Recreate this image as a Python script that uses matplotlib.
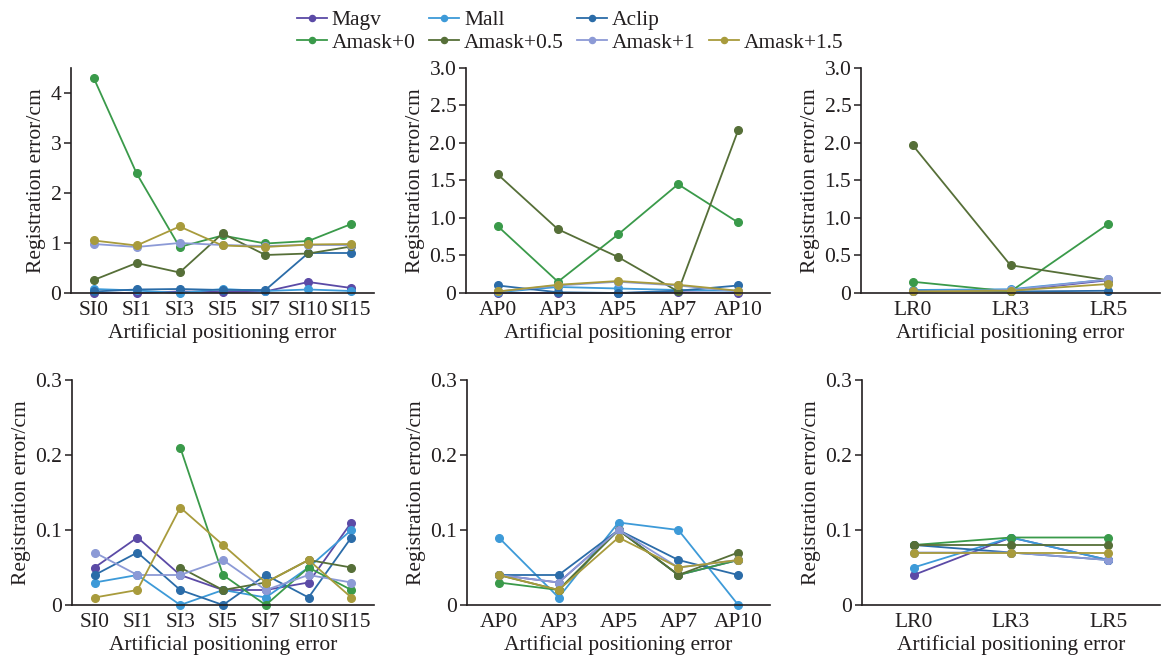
import numpy as np
import matplotlib
matplotlib.use("Agg")
import matplotlib.pyplot as plt
from matplotlib.lines import Line2D

plt.rcParams["font.family"] = ["Liberation Serif", "DejaVu Serif"]

nan = np.nan

series_names = ["Magv", "Mall", "Aclip", "Amask+0", "Amask+0.5", "Amask+1", "Amask+1.5"]
series_colors = ["#5b4aa6", "#3d9ad8", "#2b6ca8", "#3a9a4a", "#566f38", "#8c9ad6", "#a89b3c"]

si_labels = ["SI0", "SI1", "SI3", "SI5", "SI7", "SI10", "SI15"]
ap_labels = ["AP0", "AP3", "AP5", "AP7", "AP10"]
lr_labels = ["LR0", "LR3", "LR5"]

# top row (large scale)
si_top = [
    [0.00, 0.00, 0.03, 0.02, 0.03, 0.22, 0.10],
    [0.08, 0.05, 0.00, 0.08, 0.04, 0.07, 0.04],
    [0.03, 0.07, 0.08, 0.06, 0.06, 0.80, 0.80],
    [4.30, 2.39, 0.92, 1.15, 0.99, 1.04, 1.38],
    [0.26, 0.60, 0.41, 1.19, 0.76, 0.79, 0.93],
    [0.98, 0.92, 1.00, 0.96, 0.94, 0.96, 0.96],
    [1.05, 0.95, 1.33, 0.95, 0.92, 0.97, 0.98],
]
ap_top = [
    [0.00, 0.00, 0.00, 0.01, 0.00],
    [0.01, 0.08, 0.06, 0.04, 0.03],
    [0.10, 0.01, 0.00, 0.03, 0.10],
    [0.89, 0.15, 0.78, 1.45, 0.94],
    [1.58, 0.85, 0.48, 0.02, 2.17],
    [0.02, 0.10, 0.15, 0.10, 0.02],
    [0.02, 0.11, 0.16, 0.11, 0.03],
]
lr_top = [
    [0.03, 0.03, 0.17],
    [0.04, 0.05, 0.18],
    [0.03, 0.02, 0.03],
    [0.15, 0.02, 0.92],
    [1.97, 0.37, 0.17],
    [0.02, 0.04, 0.18],
    [0.02, 0.03, 0.12],
]

# bottom row (small scale)
si_bot = [
    [0.05, 0.09, 0.04, 0.02, 0.02, 0.03, 0.11],
    [0.03, 0.04, 0.00, 0.02, 0.01, 0.05, 0.10],
    [0.04, 0.07, 0.02, 0.00, 0.04, 0.01, 0.09],
    [nan, nan, 0.21, 0.04, 0.00, 0.05, 0.02],
    [nan, nan, 0.05, 0.02, 0.03, 0.06, 0.05],
    [0.07, 0.04, 0.04, 0.06, 0.02, 0.04, 0.03],
    [0.01, 0.02, 0.13, 0.08, 0.03, 0.06, 0.01],
]
ap_bot = [
    [0.04, 0.03, 0.10, 0.04, 0.06],
    [0.09, 0.01, 0.11, 0.10, 0.00],
    [0.04, 0.04, 0.10, 0.06, 0.04],
    [0.03, 0.02, 0.10, 0.04, 0.06],
    [0.04, 0.02, 0.10, 0.04, 0.07],
    [0.04, 0.03, 0.10, 0.05, 0.06],
    [0.04, 0.02, 0.09, 0.05, 0.06],
]
lr_bot = [
    [0.04, 0.09, 0.06],
    [0.05, 0.09, 0.06],
    [0.08, 0.07, 0.06],
    [0.08, 0.09, 0.09],
    [0.08, 0.08, 0.08],
    [0.07, 0.07, 0.06],
    [0.07, 0.07, 0.07],
]

TXT = "#231f20"
FS = 15.5
W, H = 1162, 659
fig = plt.figure(figsize=(W / 100, H / 100), dpi=100)

def px_axes(x0, x1, ytop, ybot):
    return fig.add_axes([x0 / W, 1 - ybot / H, (x1 - x0) / W, (ybot - ytop) / H])

panels = [
    (71, 374, 68, 293, si_labels, si_top, (0, 4.5), [0, 1, 2, 3, 4], ["0", "1", "2", "3", "4"]),
    (466, 770, 68, 293, ap_labels, ap_top, (0, 3.0), [0, 0.5, 1, 1.5, 2, 2.5, 3],
     ["0", "0.5", "1.0", "1.5", "2.0", "2.5", "3.0"]),
    (861, 1160, 68, 293, lr_labels, lr_top, (0, 3.0), [0, 0.5, 1, 1.5, 2, 2.5, 3],
     ["0", "0.5", "1.0", "1.5", "2.0", "2.5", "3.0"]),
    (72, 374, 380, 605, si_labels, si_bot, (0, 0.3), [0, 0.1, 0.2, 0.3], ["0", "0.1", "0.2", "0.3"]),
    (467, 770, 380, 605, ap_labels, ap_bot, (0, 0.3), [0, 0.1, 0.2, 0.3], ["0", "0.1", "0.2", "0.3"]),
    (862, 1160, 380, 605, lr_labels, lr_bot, (0, 0.3), [0, 0.1, 0.2, 0.3], ["0", "0.1", "0.2", "0.3"]),
]

handles = []
for i, (x0, x1, yt, yb, cats, data, ylim, yt_vals, yt_labs) in enumerate(panels):
    ax = px_axes(x0, x1, yt, yb)
    x = np.arange(len(cats))
    for name, color, vals in zip(series_names, series_colors, data):
        h, = ax.plot(x, vals, color=color, lw=1.3, marker="o", ms=5.5,
                     label=name, clip_on=False)
        if i == 0:
            handles.append(h)
    ax.set_xlim(-0.53, len(cats) - 0.47)
    ax.set_ylim(*ylim)
    ax.set_xticks(x)
    ax.set_xticklabels(cats)
    ax.set_yticks(yt_vals)
    ax.set_yticklabels(yt_labs)
    for s in ["top", "right"]:
        ax.spines[s].set_visible(False)
    for s in ["left", "bottom"]:
        ax.spines[s].set_color(TXT)
        ax.spines[s].set_linewidth(1.2)
    ax.tick_params(axis="y", length=5, width=1.1, colors=TXT, labelsize=FS, pad=2)
    ax.tick_params(axis="x", length=0, colors=TXT, labelsize=FS, pad=6)
    ax.set_ylabel("Registration error/cm", fontsize=FS, color=TXT, labelpad=3)
    ax.set_xlabel("Artificial positioning error", fontsize=FS, color=TXT, labelpad=2)

# legend: first row Magv/Mall/Aclip, second row the four Amask curves
blank = Line2D([], [], linestyle="none")
order = [handles[0], handles[3], handles[1], handles[4], handles[2], handles[5], blank, handles[6]]
labels = ["Magv", "Amask+0", "Mall", "Amask+0.5", "Aclip", "Amask+1", "", "Amask+1.5"]
fig.legend(order, labels, ncol=4, loc="upper left", bbox_to_anchor=(297 / W, 1 - 10 / H),
           frameon=False, fontsize=15.5, handlelength=1.4, handletextpad=0.22,
           columnspacing=0.62, labelspacing=0.12, markerscale=0.8,
           borderpad=0, borderaxespad=0, labelcolor=TXT)

fig.savefig("out.png", dpi=100)
